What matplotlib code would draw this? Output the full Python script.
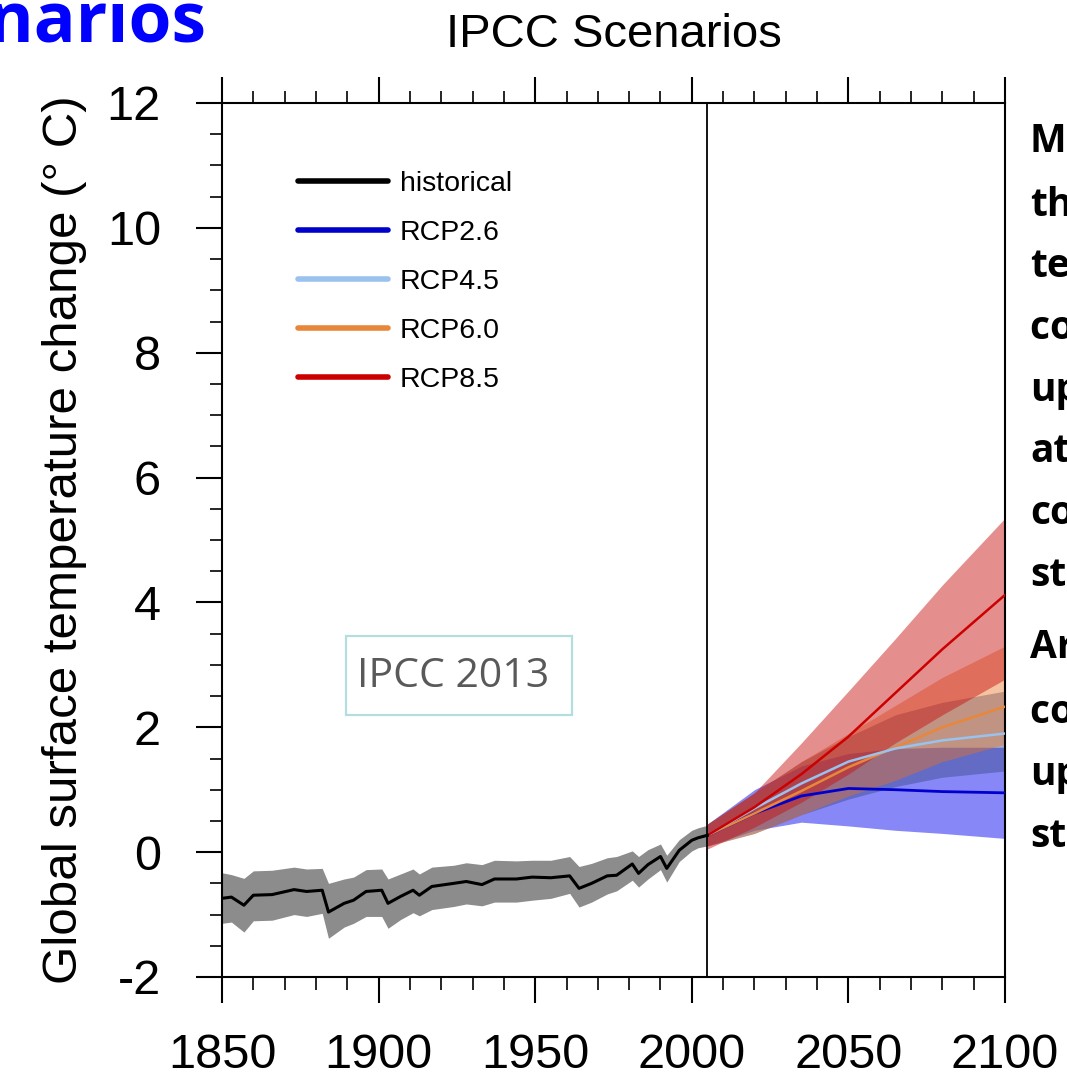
import matplotlib
matplotlib.use('Agg')
import matplotlib.pyplot as plt
from matplotlib.lines import Line2D
from matplotlib.patches import Rectangle
from matplotlib.ticker import MultipleLocator
import numpy as np

plt.rcParams['font.family'] = ['Liberation Sans', 'DejaVu Sans']

# historical run
hist_years = [1850, 1853, 1857, 1860, 1866, 1873, 1877, 1882, 1884, 1889,
              1892, 1896, 1901, 1903, 1907, 1911, 1913, 1917, 1924, 1928,
              1933, 1937, 1944, 1949, 1955, 1961, 1964, 1968, 1973, 1976,
              1981, 1983, 1986, 1990, 1992, 1996, 2000, 2002, 2005]
hist_mean = [-0.74, -0.72, -0.85, -0.69, -0.68, -0.60, -0.63, -0.61, -0.96, -0.82,
             -0.77, -0.63, -0.61, -0.82, -0.71, -0.61, -0.69, -0.55, -0.50, -0.47,
             -0.52, -0.43, -0.43, -0.40, -0.41, -0.38, -0.58, -0.50, -0.38, -0.37,
             -0.19, -0.34, -0.20, -0.07, -0.26, 0.03, 0.19, 0.23, 0.27]
hist_hi = [-0.33, -0.36, -0.42, -0.30, -0.29, -0.24, -0.27, -0.26, -0.50, -0.43,
           -0.40, -0.28, -0.27, -0.43, -0.35, -0.27, -0.35, -0.24, -0.21, -0.17,
           -0.20, -0.13, -0.14, -0.13, -0.13, -0.07, -0.23, -0.18, -0.09, -0.07,
           0.02, -0.07, 0.04, 0.13, -0.05, 0.20, 0.35, 0.39, 0.43]
hist_lo = [-1.14, -1.12, -1.28, -1.10, -1.09, -1.00, -1.03, -0.98, -1.38, -1.20,
           -1.14, -1.03, -1.03, -1.22, -1.08, -0.97, -1.02, -0.92, -0.87, -0.83,
           -0.86, -0.80, -0.80, -0.77, -0.74, -0.66, -0.88, -0.80, -0.67, -0.62,
           -0.45, -0.56, -0.43, -0.28, -0.48, -0.15, 0.02, 0.07, 0.10]

# scenarios
scen_years = [2005, 2020, 2035, 2050, 2065, 2080, 2100]

rcp26_mean = [0.27, 0.62, 0.90, 1.02, 1.00, 0.97, 0.95]
rcp26_hi = [0.45, 1.00, 1.38, 1.58, 1.66, 1.68, 1.68]
rcp26_lo = [0.10, 0.35, 0.48, 0.42, 0.35, 0.30, 0.22]

rcp45_mean = [0.27, 0.70, 1.10, 1.45, 1.66, 1.79, 1.90]
rcp45_hi = [0.45, 0.95, 1.45, 1.85, 2.20, 2.40, 2.58]
rcp45_lo = [0.10, 0.30, 0.60, 0.85, 1.05, 1.20, 1.30]

rcp60_mean = [0.27, 0.62, 0.98, 1.36, 1.68, 2.00, 2.33]
rcp60_hi = [0.45, 0.95, 1.45, 1.90, 2.35, 2.80, 3.30]
rcp60_lo = [0.10, 0.30, 0.60, 0.90, 1.15, 1.45, 1.73]

rcp85_mean = [0.27, 0.72, 1.25, 1.85, 2.55, 3.25, 4.12]
rcp85_hi = [0.45, 0.95, 1.75, 2.58, 3.42, 4.28, 5.35]
rcp85_lo = [0.05, 0.40, 0.80, 1.25, 1.75, 2.20, 2.77]

labels = ['historical', 'RCP2.6', 'RCP4.5', 'RCP6.0', 'RCP8.5']
colors = ['black', '#0000cc', '#99c2ee', '#e8873a', '#cc0000']

side_lines = ['Most of', 'the', 'temperature', 'could go', 'up', 'at',
              'constant', 'status', 'Around', 'could go', 'up', 'steady']
side_y = [142, 205, 266, 328, 390, 452, 514, 576, 648, 712, 774, 836]

fig = plt.figure(figsize=(10.67, 10.85), dpi=100)
ax = fig.add_axes([222/1067, 108/1085, 783/1067, 874/1085])

ax.fill_between(hist_years, hist_lo, hist_hi, color='#8c8c8c', lw=0, zorder=1)

bands = [(rcp26_lo, rcp26_hi, '#1010f0', 0.5),
         (rcp45_lo, rcp45_hi, '#3a4a88', 0.45),
         (rcp60_lo, rcp60_hi, '#e87020', 0.42),
         (rcp85_lo, rcp85_hi, '#c81010', 0.47)]
for lo, hi, c, a in bands:
    ax.fill_between(scen_years, lo, hi, color=c, alpha=a, lw=0, zorder=2)

ax.plot(scen_years, rcp26_mean, color=colors[1], lw=2.0, zorder=3)
ax.plot(scen_years, rcp60_mean, color=colors[3], lw=1.8, zorder=3)
ax.plot(scen_years, rcp45_mean, color=colors[2], lw=1.8, zorder=3)
ax.plot(scen_years, rcp85_mean, color=colors[4], lw=1.8, zorder=4)
ax.plot(hist_years, hist_mean, color='black', lw=2.2, zorder=5)

ax.axvline(2005, color='black', lw=1.3, zorder=6)

ax.set_xlim(1850, 2100)
ax.set_ylim(-2, 12)
ax.xaxis.set_major_locator(MultipleLocator(50))
ax.xaxis.set_minor_locator(MultipleLocator(10))
ax.yaxis.set_major_locator(MultipleLocator(2))
ax.yaxis.set_minor_locator(MultipleLocator(0.5))
ax.yaxis.set_major_formatter(matplotlib.ticker.FuncFormatter(lambda v, p: '%d' % v))

ax.tick_params(axis='x', which='both', direction='out', top=True, bottom=True,
               labeltop=False, width=1.5, pad=21, labelsize=35)
ax.tick_params(axis='y', which='both', direction='out', right=False,
               width=1.5, pad=25, labelsize=35)
ax.tick_params(which='major', length=19)
ax.tick_params(which='minor', length=9, width=1.2)
for s in ax.spines.values():
    s.set_linewidth(1.5)

ax.set_ylabel('Global surface temperature change (° C)', fontsize=35.5, labelpad=14)

handles = [Line2D([], [], color=c, lw=4, solid_capstyle='round') for c in colors]
ax.legend(handles, labels, loc='upper left', bbox_to_anchor=(0.097, 0.922),
          frameon=False, fontsize=20.5, handlelength=3.15, handletextpad=0.42,
          labelspacing=0.81, borderpad=0, borderaxespad=0)

ax.add_patch(Rectangle((0.158, 0.300), 0.289, 0.090, transform=ax.transAxes,
                       fill=False, edgecolor='#b4dde0', lw=1.6, zorder=7))
ax.text(0.295, 0.343, 'IPCC 2013', transform=ax.transAxes, ha='center', va='center',
        fontsize=29.5, color='#595959', family='Open Sans', zorder=7)

fig.text(0.575, 1 - 35/1085, 'IPCC Scenarios', ha='center', va='center', fontsize=34)
fig.text(207/1067, 1 - 42/1085, 'Scenarios', ha='right', va='baseline',
         fontsize=50, fontweight='bold', color='#0000ff', family='Open Sans')

for t, y in zip(side_lines, side_y):
    fig.text(1030/1067, 1 - y/1085, t, ha='left', va='center', fontsize=28,
             fontweight='bold', family='Open Sans')

fig.savefig('out.png', dpi=100)
